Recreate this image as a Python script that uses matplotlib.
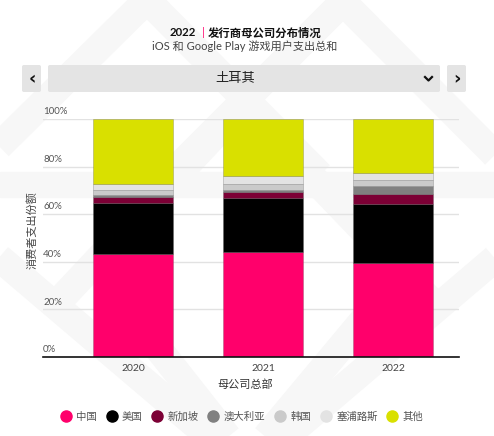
import matplotlib.pyplot as plt
from matplotlib.patches import Polygon, FancyBboxPatch
from matplotlib.lines import Line2D
import numpy as np

# Chart data (share of consumer spend, %)
years = ["2020", "2021", "2022"]
series_names = ["中国", "美国", "新加坡", "澳大利亚", "韩国", "塞浦路斯", "其他"]
china = [43.3, 44.0, 39.6]
usa = [21.5, 22.6, 24.8]
singapore = [2.3, 2.9, 3.9]
australia = [1.1, 0.8, 3.5]
korea = [2.0, 2.3, 2.6]
cyprus = [2.5, 3.6, 3.1]
other = [27.3, 23.8, 22.5]
y_ticks = [0, 20, 40, 60, 80, 100]

series_values = [china, usa, singapore, australia, korea, cyprus, other]
colors = ["#FF006B", "#000000", "#7C0035", "#808080", "#CACACA", "#E3E3E3", "#D9E000"]

W, H = 494, 436
FONT = ["Lato", "Noto Sans CJK SC", "DejaVu Sans"]
plt.rcParams["font.family"] = FONT

fig = plt.figure(figsize=(W / 100, H / 100), dpi=100)
fig.patch.set_facecolor("white")


def fx(x):
    return x / W


def fy(y):
    return 1 - y / H


# Faint background chevron bands
band = "#F7F7F7"
band_lw = 20
for pts in [
    [(-20, 165), (147, 0), (320, 175)],
    [(170, 175), (343, 2), (520, 180)],
    [(60, 300), (243, 105), (430, 300)],
    [(-10, 250), (225, 450)],
    [(505, 250), (270, 450)],
    [(120, 300), (238, 450)],
    [(380, 300), (255, 450)],
]:
    xs = [fx(p[0]) for p in pts]
    ys = [fy(p[1]) for p in pts]
    fig.add_artist(Line2D(xs, ys, color=band, lw=band_lw, transform=fig.transFigure,
                          zorder=0, solid_joinstyle="miter", solid_capstyle="butt"))
fig.add_artist(Polygon([(0, fy(172)), (1, fy(172)), (1, fy(197)), (0, fy(197))],
                       closed=True, color=band, transform=fig.transFigure, zorder=0))

# Title and subtitle
fig.text(fx(170), fy(33), "2022", ha="left", va="center", fontsize=8.2, fontweight="bold",
         color="#111111")
fig.text(fx(203), fy(33), "|", ha="center", va="center", fontsize=8.2, color="#FF006B")
fig.text(fx(208), fy(33), "发行商母公司分布情况", ha="left", va="center", fontsize=8.2,
         fontweight="bold", color="#111111")
fig.text(fx(245), fy(46), "iOS 和 Google Play 游戏用户支出总和", ha="center", va="center",
         fontsize=8, color="#444444")

# Dropdown selector
for x0, x1 in [(22, 41), (48, 440), (447, 466)]:
    fig.add_artist(FancyBboxPatch((fx(x0), fy(92)), fx(x1 - x0), (92 - 65) / H,
                                  boxstyle="round,pad=0,rounding_size=0.004",
                                  fc="#E4E4E4", ec="none", transform=fig.transFigure))
fig.text(fx(32), fy(79), "‹", ha="center", va="center", fontsize=13, fontweight="bold",
         color="#111111", family="DejaVu Sans")
fig.text(fx(457), fy(79), "›", ha="center", va="center", fontsize=13, fontweight="bold",
         color="#111111", family="DejaVu Sans")
fig.text(fx(235), fy(78), "土耳其", ha="center", va="center", fontsize=9.5, color="#222222")
fig.add_artist(Line2D([fx(425), fx(428.5), fx(432)], [fy(77), fy(80.5), fy(77)],
                      color="#111111", lw=1.6, transform=fig.transFigure))

# Plot area
ax = fig.add_axes([fx(43), fy(357), fx(459 - 43), (357 - 119) / H])
ax.set_facecolor("none")
x = np.arange(len(years))
bottom = np.zeros(len(years))
for name, vals, col in zip(series_names, series_values, colors):
    ax.bar(x, vals, width=0.615, bottom=bottom, color=col, label=name,
           edgecolor=(0.3, 0.3, 0.3, 0.35), linewidth=0.5, zorder=3)
    bottom += np.array(vals)

ax.set_xlim(-90 / 130, 2 + 66 / 130)
ax.set_ylim(0, 100)
for t in y_ticks[1:]:
    ax.axhline(t, color="#E2E2E2", lw=1, zorder=1)
for t in y_ticks:
    ax.text(0.0, t + 1.2, f"{t}%", transform=ax.get_yaxis_transform(), ha="left",
            va="bottom", fontsize=7, color="#555555")
ax.set_yticks([])
ax.set_xticks(x)
ax.set_xticklabels(years, fontsize=7.5, color="#444444")
ax.tick_params(axis="x", length=0, pad=5)
for side in ["top", "right", "left"]:
    ax.spines[side].set_visible(False)
ax.spines["bottom"].set_color("#111111")
ax.spines["bottom"].set_linewidth(1.2)
ax.spines["bottom"].set_zorder(4)

fig.text(fx(245), fy(384), "母公司总部", ha="center", va="center", fontsize=8, color="#333333")
fig.text(fx(32), fy(230), "消费者支出份额", ha="center", va="center", rotation=90,
         fontsize=8, color="#444444")

# Legend
handles = [Line2D([], [], marker="o", ls="none", markersize=8, markerfacecolor=c,
                  markeredgecolor=c) for c in colors]
fig.legend(handles, series_names, loc="center", bbox_to_anchor=(fx(242), fy(417)),
           ncol=len(series_names), frameon=False, fontsize=7.5, handletextpad=0.5,
           columnspacing=0.9, handlelength=1.0, labelcolor="#555555")

fig.savefig("out.png", dpi=100)
